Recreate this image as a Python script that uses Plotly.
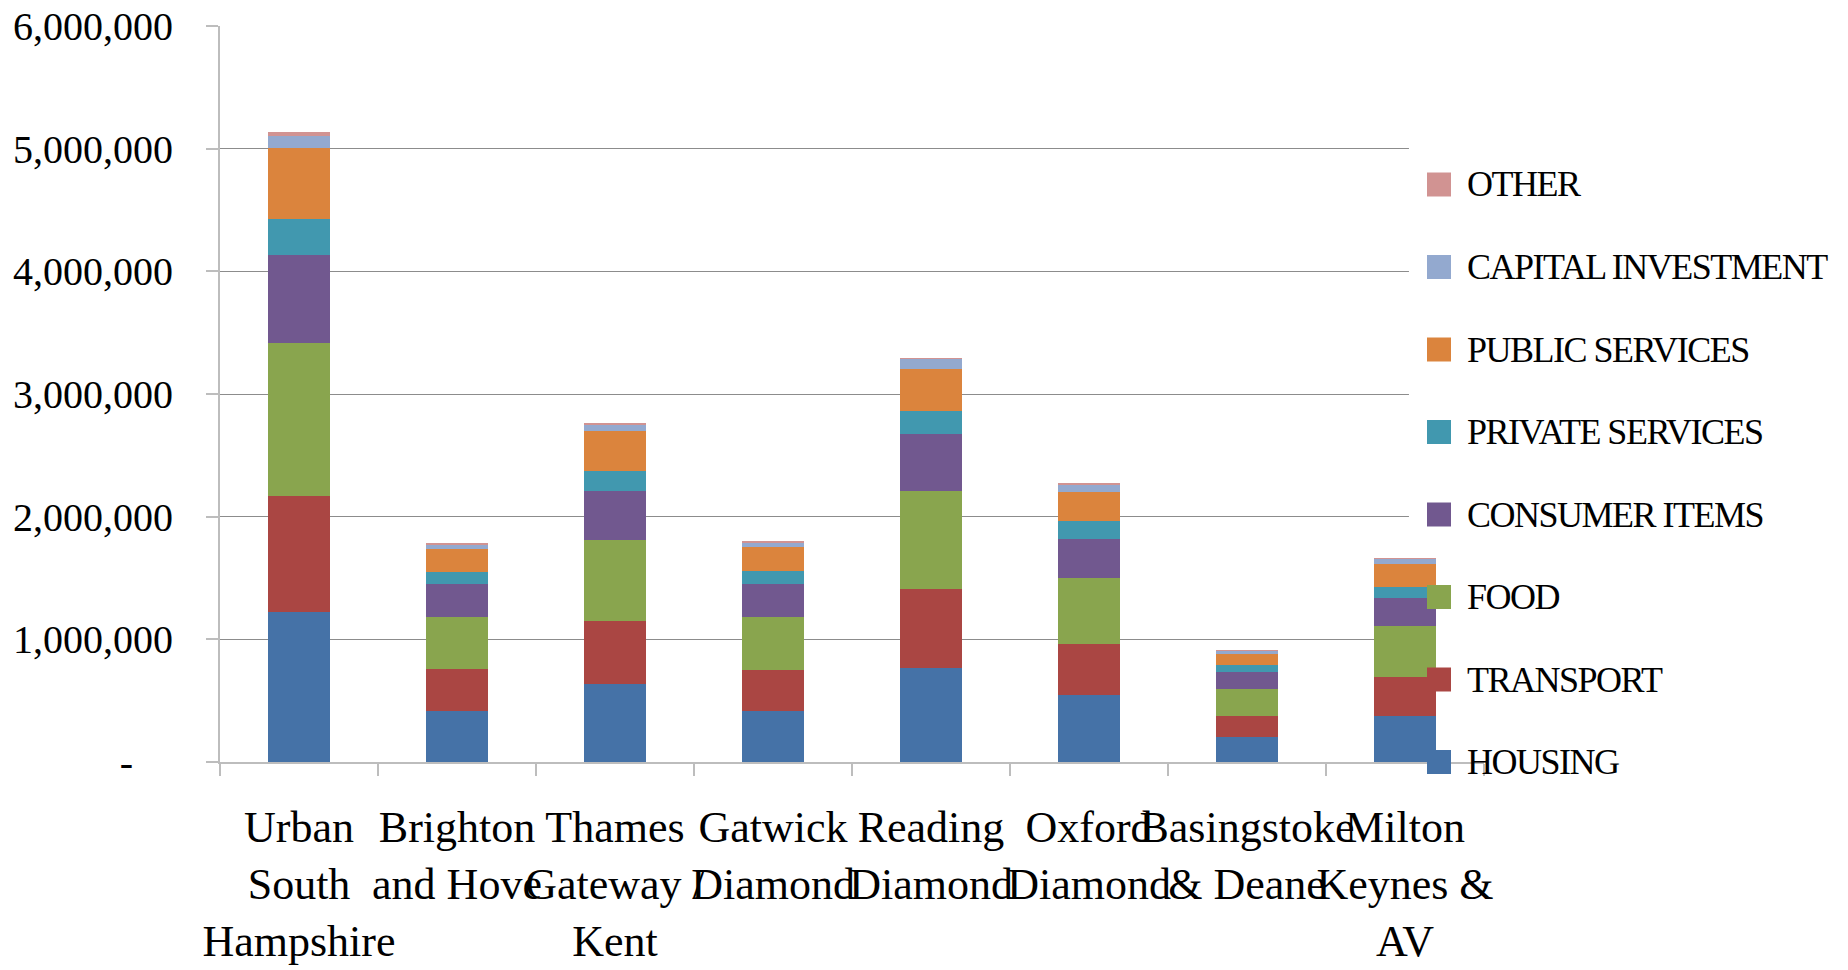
import plotly.graph_objects as go

categories = ["Urban<br>South<br>Hampshire", "Brighton<br>and Hove", "Thames<br>Gateway /<br>Kent",
              "Gatwick<br>Diamond", "Reading<br>Diamond", "Oxford<br>Diamond",
              "Basingstoke<br>& Deane", "Milton<br>Keynes &<br>AV"]

housing   = [1224000, 417000, 638000, 415000, 767000, 546000, 202000, 377000]
transport = [945000, 338000, 513000, 335000, 646000, 417000, 172000, 316000]
food      = [1245000, 428000, 655000, 434000, 794000, 540000, 221000, 418000]
consumer  = [720000, 266000, 401000, 270000, 467000, 319000, 139000, 229000]
private   = [294000, 97000, 164000, 107000, 191000, 142000, 57000, 90000]
public    = [575000, 190000, 327000, 191000, 341000, 235000, 90000, 188000]
capital   = [103000, 41000, 57000, 38000, 82000, 65000, 25000, 41000]
other     = [28000, 4000, 4000, 4000, 4000, 4000, 3000, 4000]

series_names = ["HOUSING", "TRANSPORT", "FOOD", "CONSUMER ITEMS", "PRIVATE SERVICES",
                "PUBLIC SERVICES", "CAPITAL INVESTMENT", "OTHER"]
series_values = [housing, transport, food, consumer, private, public, capital, other]
colors = ["#4572A7", "#AA4643", "#89A54E", "#71588F", "#4198AF", "#DB843D", "#93A9CF", "#D19392"]

y_ticks = [0, 1000000, 2000000, 3000000, 4000000, 5000000, 6000000]
y_ticktext = [f"{v:,}" if v else "-\u00a0\u00a0\u00a0\u00a0" for v in y_ticks]

FONT = "Liberation Serif"

fig = go.Figure()
for name, vals, col in zip(series_names, series_values, colors):
    fig.add_trace(go.Bar(x=categories, y=vals, name=name, marker_color=col,
                         marker_line_width=0, showlegend=False))

fig.update_layout(
    barmode="stack",
    bargap=0.61,
    width=1848, height=970,
    margin=dict(l=220, r=364, t=26, b=208),
    paper_bgcolor="white", plot_bgcolor="white",
    font=dict(family=FONT, color="black"),
)

fig.update_yaxes(
    range=[0, 6000000], tickvals=y_ticks, ticktext=y_ticktext,
    tickfont=dict(family=FONT, size=40, color="black"),
    showgrid=True, gridcolor="#8c8c8c", gridwidth=1.3,
    showline=True, linecolor="#bdbdbd", linewidth=2,
    ticks="outside", ticklen=12, tickcolor="#bdbdbd", tickwidth=2,
    ticklabelstandoff=25, zeroline=False, automargin=False,
)
fig.update_xaxes(
    tickfont=dict(family=FONT, size=44, color="black"), tickangle=0,
    showline=True, linecolor="#bdbdbd", linewidth=2,
    ticks="outside", ticklen=12, tickcolor="#bdbdbd", tickwidth=2,
    tickson="boundaries", ticklabelstandoff=25, automargin=False,
)

# white panel behind the legend covering the gridlines (below bars)
fig.add_shape(type="rect", xref="x", yref="y", x0=7.025, x1=7.5,
              y0=500000, y1=5500000, fillcolor="white", line_width=0, layer="between")

# manual legend
step = 82.5 / 736.0
for k, (name, col) in enumerate(zip(series_names, colors)):
    yc = k * step
    fig.add_shape(type="rect", xref="paper", yref="paper",
                  xsizemode="pixel", ysizemode="pixel",
                  xanchor=0.9644, yanchor=yc, x0=-12, x1=12, y0=-12, y1=12,
                  fillcolor=col, line_width=0, layer="above")
    fig.add_annotation(xref="paper", yref="paper", x=0.985, y=yc,
                       xanchor="left", yanchor="middle", showarrow=False,
                       text=f'<span style="letter-spacing:-1.5px">{name}</span>',
                       font=dict(family=FONT, size=36, color="black"))

fig.write_html("out.html")
